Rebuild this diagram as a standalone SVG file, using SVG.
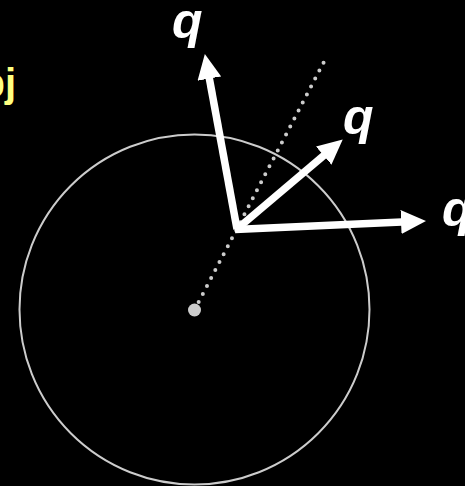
<svg xmlns="http://www.w3.org/2000/svg" width="465" height="486" viewBox="0 0 465 486">
<style>
.lbl{font-family:"Liberation Sans",Arial,sans-serif;font-weight:bold;font-style:italic;font-size:50px;fill:#fff}
.arr{stroke:#fff;stroke-width:7.5;fill:none;marker-end:url(#head)}
</style>
<defs>
<marker id="head" markerUnits="userSpaceOnUse" markerWidth="26" markerHeight="26" refX="12" refY="12" orient="auto" viewBox="0 0 26 26">
<path d="M0,0 L25,12 L0,24 z" fill="#fff"/>
</marker>
</defs>
<rect width="465" height="486" fill="#000"/>
<g id="sphere">
<circle cx="194.5" cy="309.5" r="175" fill="none" stroke="#cccccc" stroke-width="2"/>
<circle cx="194.5" cy="310" r="6.5" fill="#cccccc"/>
</g>
<g id="axis">
<line x1="194.5" y1="310" x2="327" y2="56" stroke="#cccccc" stroke-width="4" stroke-linecap="round" stroke-dasharray="0 9"/>
</g>
<g id="connectors">
<line class="arr" x1="237" y1="229" x2="207.2" y2="66.8"/>
<line class="arr" x1="237" y1="229" x2="332.8" y2="147.8"/>
<line class="arr" x1="235" y1="229.5" x2="413" y2="221.5"/>
</g>
<g id="label-obj"><text x="16" y="97" text-anchor="end" style="font-family:'Liberation Sans',Arial,sans-serif;font-weight:bold;font-size:40px;fill:#ffff80">bj</text></g>
<g id="label-q1"><text class="lbl" x="172" y="38">q</text></g>
<g id="label-q2"><text class="lbl" x="343" y="134">q</text></g>
<g id="label-q3"><text class="lbl" x="442" y="226">q</text></g>
</svg>
